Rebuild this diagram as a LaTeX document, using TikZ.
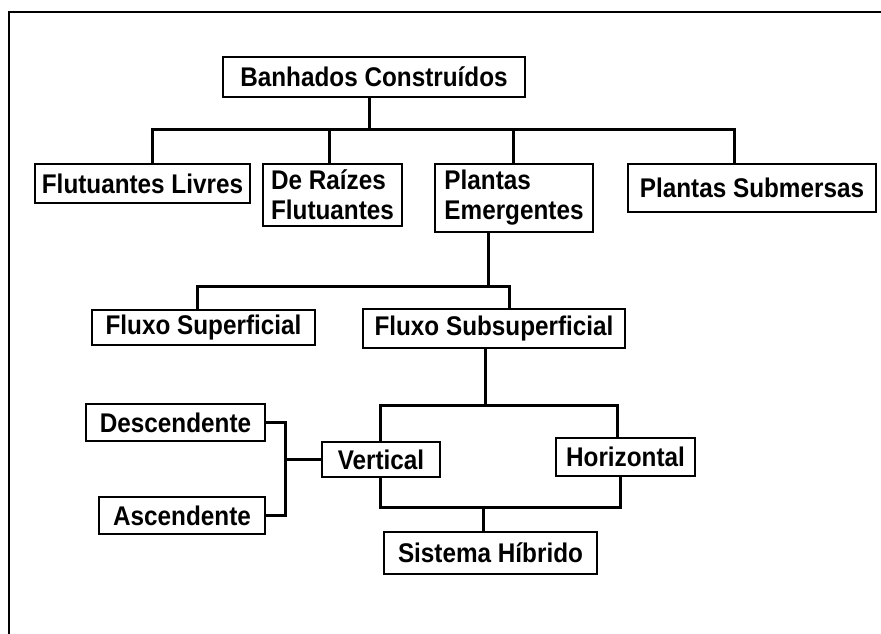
\documentclass[tikz,border=0pt]{standalone}
\usepackage{fontspec}
\setmainfont{Liberation Sans}[FakeStretch=0.9]
\usepackage{tikz}
\usetikzlibrary{calc}

\begin{document}
\begin{tikzpicture}[x=1pt, y=-1pt,
	caixa/.style={draw, line width=2.5pt, inner sep=0pt, align=left,
		font=\fontsize{27}{30}\selectfont\bfseries},
	ligacao/.style={line width=3pt},
	moldura/.style={line width=2pt}]
	%%%%% START %%%%%
	
	\useasboundingbox (0, 0) rectangle (881, 633);
	\draw[moldura] (9, 640) -- (9, 12) -- (890, 12);
	
	\node[caixa, minimum width=302, minimum height=40] (banh) at (374, 77) {Banhados Construídos};
	
	\node[caixa, minimum width=215, minimum height=39] (flut) at (142.5, 183.5) {Flutuantes Livres};
	\node[caixa, minimum width=139, minimum height=62] (raiz) at (332.5, 195) {De Raízes\\Flutuantes};
	\node[caixa, minimum width=158, minimum height=68] (emer) at (514, 198) {Plantas\\Emergentes};
	\node[caixa, minimum width=248, minimum height=48] (subm) at (752, 188) {Plantas Submersas};
	
	\node[caixa, minimum width=223, minimum height=35] (fsup) at (203.5, 327.5) {Fluxo Superficial};
	\node[caixa, minimum width=262, minimum height=39] (fsub) at (494, 328.5) {Fluxo Subsuperficial};
	
	\node[caixa, minimum width=179, minimum height=37] (desc) at (175.5, 422.5) {Descendente};
	\node[caixa, minimum width=166, minimum height=37] (asc) at (182, 515.5) {Ascendente};
	\node[caixa, minimum width=118, minimum height=35] (vert) at (381, 459.5) {Vertical};
	\node[caixa, minimum width=139, minimum height=38] (hori) at (625.5, 457) {Horizontal};
	\node[caixa, minimum width=213, minimum height=42] (hibr) at (490.5, 553) {Sistema Híbrido};
	
	\coordinate (b1) at (369, 129);
	\draw[ligacao] (banh.south -| b1) -- (b1);
	\draw[ligacao] ([xshift=10pt]flut.north) |- (b1) -| ([xshift=-18pt]subm.north);
	\draw[ligacao] ([xshift=-3pt]raiz.north) -- ([xshift=-3pt]raiz.north |- b1);
	\draw[ligacao] ([xshift=-1pt]emer.north) -- ([xshift=-1pt]emer.north |- b1);
	
	\coordinate (b2) at (488, 286);
	\draw[ligacao] (emer.south -| b2) -- (b2);
	\draw[ligacao] ([xshift=-6pt]fsup.north) |- (b2) -| ([xshift=15pt]fsub.north);
	
	\coordinate (b3) at (485, 405);
	\draw[ligacao] (fsub.south -| b3) -- (b3);
	\draw[ligacao] ([xshift=-1pt]vert.north) |- (b3) -| ([xshift=-8.5pt]hori.north);
	
	\coordinate (b4) at (483, 507);
	\draw[ligacao] ([xshift=-1pt]vert.south) |- (b4) -| ([xshift=-5.5pt]hori.south);
	\draw[ligacao] (b4) -- (hibr.north -| b4);
	
	\coordinate (b5) at (285, 459);
	\draw[ligacao] (desc.east) -| (b5) |- (asc.east);
	\draw[ligacao] (vert.west) -- (vert.west -| b5);
	
	%%%%% END %%%%%
\end{tikzpicture}
\end{document}
